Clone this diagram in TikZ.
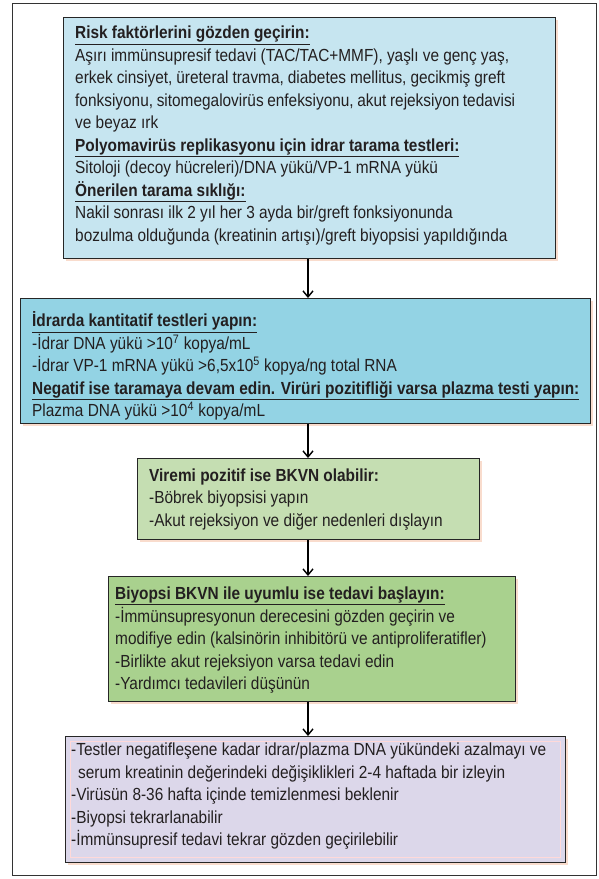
\documentclass[tikz,border=0pt]{standalone}
\usepackage{fontspec}
\setmainfont{Liberation Sans}[FakeStretch=0.88]
\usetikzlibrary{arrows.meta,shadows}
\definecolor{cA}{HTML}{C6E5F0}
\definecolor{cB}{HTML}{93D3E4}
\definecolor{cC}{HTML}{C5DEB2}
\definecolor{cD}{HTML}{A9D18E}
\definecolor{cE}{HTML}{DCD7EA}
\definecolor{txtc}{HTML}{231F20}
\definecolor{glowc}{HTML}{F6CDB8}
\tikzset{
  flowbox/.style={draw=black!85, line width=1.3pt, inner sep=0pt, anchor=north west,
    drop shadow={shadow xshift=2pt, shadow yshift=-2pt, fill=glowc, opacity=0.7}},
  boxtext/.style={anchor=west, align=left, inner sep=0pt, text=txtc,
    font=\fontsize{17.5}{22.5}\selectfont},
  arr/.style={line width=1.4pt, -{Straight Barb[length=6pt,width=10pt]}},
}
\newcommand{\jline}[2]{\makebox[#1][s]{#2}}
\begin{document}
\begin{tikzpicture}[x=1pt,y=-1pt]
\useasboundingbox (0,0) rectangle (598,879);
\node[draw=black!80, line width=1.1pt, minimum width=584, minimum height=872, inner sep=0pt, anchor=north west] (frame) at (12,3) {};
\coordinate (ax) at (308,0);

\node[flowbox, fill=cA, minimum width=492, minimum height=241] (b1) at (63,17) {};
\node[boxtext] (t1) at ([xshift=12pt,yshift=2.5pt]b1.west) {\underline{\textbf{Risk faktörlerini gözden geçirin:}}\\
\jline{434pt}{Aşırı immünsupresif tedavi (TAC/TAC+MMF), yaşlı ve genç yaş,}\\
\jline{430pt}{erkek cinsiyet, üreteral travma, diabetes mellitus, gecikmiş greft}\\
\jline{440pt}{fonksiyonu, sitomegalovirüs enfeksiyonu, akut rejeksiyon tedavisi}\\
ve beyaz ırk\\
\underline{\textbf{Polyomavirüs replikasyonu için idrar tarama testleri:}}\\
Sitoloji (decoy hücreleri)/DNA yükü/VP-1 mRNA yükü\\
\underline{\textbf{Önerilen tarama sıklığı:}}\\
Nakil sonrası ilk 2 yıl her 3 ayda bir/greft fonksiyonunda\\
bozulma olduğunda (kreatinin artışı)/greft biyopsisi yapıldığında};

\node[flowbox, fill=cB, minimum width=570, minimum height=125] (b2) at (20,298) {};
\node[boxtext] (t2) at ([xshift=12pt,yshift=-5pt]b2.west) {\underline{\textbf{İdrarda kantitatif testleri yapın:}}\\
-İdrar DNA yükü >10\textsuperscript{7} kopya/mL\\
-İdrar VP-1 mRNA yükü >6,5x10\textsuperscript{5} kopya/ng total RNA\\
\underline{\textbf{Negatif ise taramaya devam edin. Virüri pozitifliği varsa plazma testi yapın:}}\\
Plazma DNA yükü >10\textsuperscript{4} kopya/mL};

\node[flowbox, fill=cC, minimum width=342, minimum height=81] (b3) at (137,458) {};
\node[boxtext] (t3) at ([xshift=12pt]b3.west) {\textbf{Viremi pozitif ise BKVN olabilir:}\\
-Böbrek biyopsisi yapın\\
-Akut rejeksiyon ve diğer nedenleri dışlayın};

\node[flowbox, fill=cD, minimum width=407, minimum height=125] (b4) at (108,576) {};
\node[boxtext] (t4) at ([xshift=7pt,yshift=-1pt]b4.west) {\underline{\textbf{Biyopsi BKVN ile uyumlu ise tedavi başlayın:}}\\
-İmmünsupresyonun derecesini gözden geçirin ve\\
modifiye edin (kalsinörin inhibitörü ve antiproliferatifler)\\
-Birlikte akut rejeksiyon varsa tedavi edin\\
-Yardımcı tedavileri düşünün};

\node[flowbox, fill=cE, minimum width=500, minimum height=126] (b5) at (65,736) {};
\node[draw=red!15, line width=0.6pt, minimum width=490, minimum height=116, inner sep=0pt] (b5in) at (b5.center) {};
\node[boxtext] (t5) at ([xshift=6pt,yshift=3.5pt]b5.west) {-Testler negatifleşene kadar idrar/plazma DNA yükündeki azalmayı ve\\
\hspace*{7pt}serum kreatinin değerindeki değişiklikleri 2-4 haftada bir izleyin\\
-Virüsün 8-36 hafta içinde temizlenmesi beklenir\\
-Biyopsi tekrarlanabilir\\
-İmmünsupresif tedavi tekrar gözden geçirilebilir};

\draw[arr] (b1.south -| ax) -- (b2.north -| ax);
\draw[arr] (b2.south -| ax) -- (b3.north -| ax);
\draw[arr] (b3.south -| ax) -- (b4.north -| ax);
\draw[arr] (b4.south -| ax) -- (b5.north -| ax);
\end{tikzpicture}
\end{document}
